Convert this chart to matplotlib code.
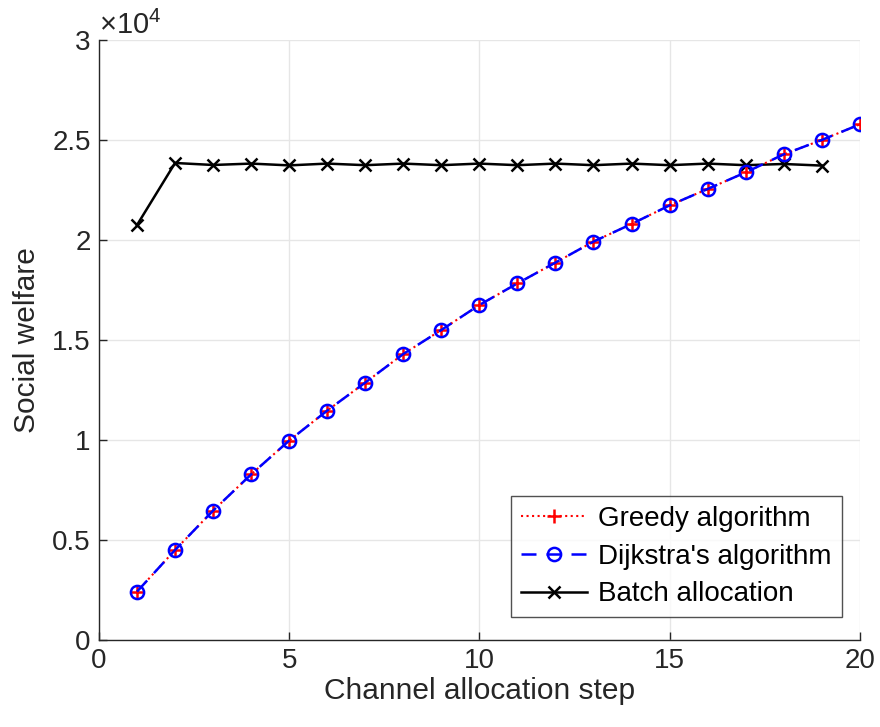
import matplotlib
matplotlib.use("Agg")
import matplotlib.pyplot as plt
from matplotlib.ticker import FuncFormatter

plt.rcParams['font.family'] = ['Liberation Sans', 'DejaVu Sans']
plt.rcParams['mathtext.fontset'] = 'custom'
plt.rcParams['mathtext.rm'] = 'Liberation Sans'
plt.rcParams['mathtext.it'] = 'Liberation Sans'

steps = list(range(1, 21))
greedy = [2420, 4500, 6470, 8280, 9970, 11470, 12870, 14300, 15500, 16750,
          17830, 18870, 19920, 20800, 21730, 22550, 23380, 24280, 25000, 25780]
dijkstra = list(greedy)
batch_steps = list(range(1, 20))
batch = [20750, 23850, 23750, 23820, 23730, 23820, 23740, 23820, 23740, 23820,
         23740, 23820, 23740, 23820, 23740, 23820, 23740, 23800, 23720]

xticks = [0, 5, 10, 15, 20]
yticks = [0, 5000, 10000, 15000, 20000, 25000, 30000]

fig = plt.figure(figsize=(8.8, 7.27), dpi=100)
ax = fig.add_axes([0.1125, 0.1197, 0.977 - 0.1125, 0.945 - 0.1197])

ax.plot(steps, greedy, color='red', linestyle=':', linewidth=1.5, marker='+',
        markersize=10, markeredgewidth=1.8, label='Greedy algorithm', zorder=3)
ax.plot(steps, dijkstra, color='blue', linestyle=(0, (6, 4)), linewidth=1.8, marker='o',
        markersize=9.5, markerfacecolor='none', markeredgewidth=1.8,
        label="Dijkstra's algorithm", zorder=4)
ax.plot(batch_steps, batch, color='black', linestyle='-', linewidth=1.8, marker='x',
        markersize=9, markeredgewidth=1.8, label='Batch allocation', zorder=2)

ax.set_xlim(0, 20)
ax.set_ylim(0, 30000)
ax.set_xticks(xticks)
ax.set_yticks(yticks)
ax.yaxis.set_major_formatter(FuncFormatter(lambda v, p: f"{v/1e4:g}"))
ax.grid(True, color='#e6e6e6', linewidth=1.0)
ax.set_axisbelow(True)
for s in ['top', 'right']:
    ax.spines[s].set_visible(False)
for s in ['left', 'bottom']:
    ax.spines[s].set_color('#262626')
    ax.spines[s].set_linewidth(1.0)
ax.tick_params(direction='in', length=6, width=1.0, color='#262626',
               labelsize=20, labelcolor='#262626', pad=6)
ax.set_xlabel('Channel allocation step', fontsize=21.5, color='#262626', labelpad=2)
ax.set_ylabel('Social welfare', fontsize=21.5, color='#262626', labelpad=8)
ax.text(0.0, 1.0, r'$\times10^{4}$', transform=ax.transAxes, fontsize=21,
        color='#262626', ha='left', va='bottom')

leg = ax.legend(loc='lower right', bbox_to_anchor=(0.976, 0.038), fontsize=20,
                frameon=True, fancybox=False, handlelength=2.4, borderpad=0.35,
                labelspacing=0.42, handletextpad=0.4, borderaxespad=0.0)
leg.get_frame().set_edgecolor('#262626')
leg.get_frame().set_linewidth(1.0)

fig.savefig('out.png', dpi=100)
